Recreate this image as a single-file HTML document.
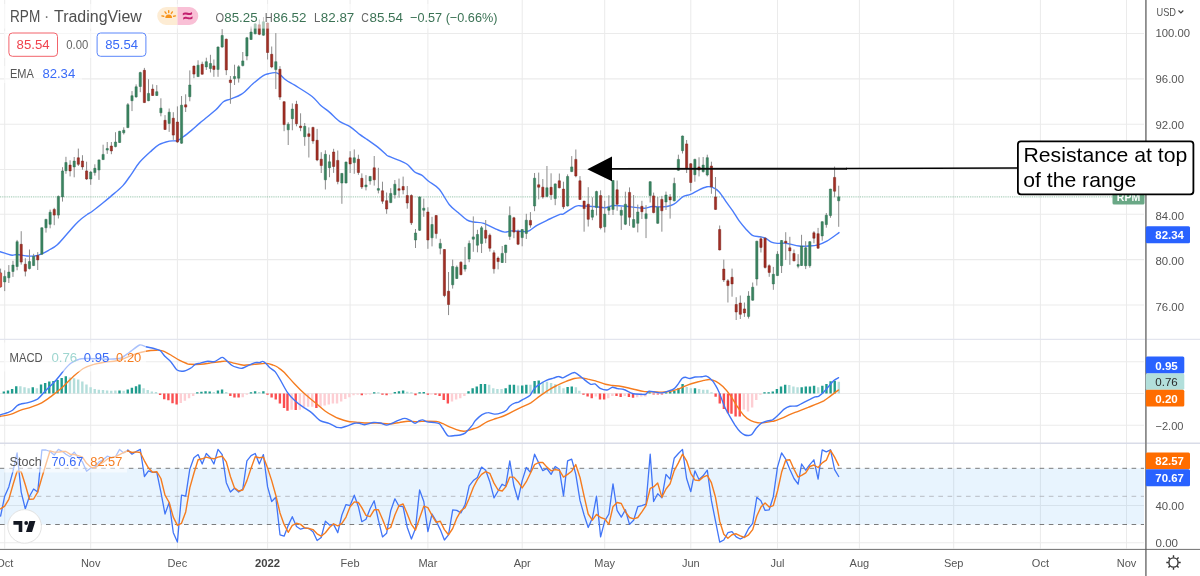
<!DOCTYPE html>
<html lang="en"><head><meta charset="utf-8"><title>RPM · TradingView</title>
<style>
html,body{margin:0;padding:0;background:#fff;}
body{width:1200px;height:576px;overflow:hidden;font-family:"Liberation Sans",sans-serif;}
svg{display:block;}
</style></head><body>
<svg width="1200" height="576" viewBox="0 0 1200 576" font-family="'Liberation Sans', sans-serif">
<rect width="1200" height="576" fill="#fff"/>
<path d="M4.7 0V548.5 M90.7 0V548.5 M177.4 0V548.5 M267.6 0V548.5 M350.1 0V548.5 M427.9 0V548.5 M522.2 0V548.5 M604.7 0V548.5 M690.8 0V548.5 M777.5 0V548.5 M859.4 0V548.5 M953.7 0V548.5 M1040.4 0V548.5 M1126.5 0V548.5 M0 33.4H1144 M0 78.85H1144 M0 124.3H1144 M0 169.5H1144 M0 214.3H1144 M0 259.6H1144 M0 304.9H1144 M0 361.7H1144 M0 393.5H1144 M0 425.2H1144 M0 505.5H1144 M0 542.7H1144" stroke="#ebebeb" stroke-width="1.05" fill="none"/>
<rect x="0" y="468.3" width="1144" height="56.2" fill="#2196f3" fill-opacity="0.1"/>
<path d="M0 339.3H1200" stroke="#e3e5ee" stroke-width="1.2"/>
<path d="M0 443.3H1200" stroke="#d9dce8" stroke-width="1.6"/>
<path d="M0 468.3H1144M0 524.5H1144" stroke="#666" stroke-width="0.85" stroke-dasharray="4.6 4.6" fill="none"/>
<path d="M0 496.3H1144" stroke="#adb0b8" stroke-width="0.85" stroke-dasharray="4.6 4.6" fill="none"/>
<path d="M0 196.9H1146" stroke="#6fae8c" stroke-width="1" stroke-dasharray="0.9 0.93" fill="none" opacity="0.8"/>
<path d="M-2.0 251.5C-1.7 251.5 -1.5 251.3 0.0 251.7C1.5 252.1 5.0 253.2 7.0 253.8C9.0 254.4 10.5 255.1 12.2 255.2C13.9 255.3 15.1 254.4 17.4 254.5C19.7 254.6 23.1 255.7 26.0 255.9C28.9 256.1 32.1 256.4 34.7 256.0C37.3 255.7 39.4 254.8 41.7 253.8C44.0 252.9 46.0 251.8 48.6 250.3C51.2 248.8 53.8 248.0 57.3 244.8C60.8 241.6 65.9 235.1 69.4 231.2C72.9 227.4 75.2 224.4 78.1 221.7C81.0 218.9 84.5 216.4 86.8 214.8C89.1 213.1 89.5 213.3 91.7 211.7C93.9 210.1 96.8 207.8 100.0 205.2C103.2 202.6 107.0 199.7 110.8 196.4C114.6 193.1 119.4 189.4 122.9 185.6C126.4 181.8 128.8 177.7 131.6 173.8C134.3 170.0 136.3 166.1 139.4 162.5C142.5 158.9 146.7 155.1 150.0 152.1C153.3 149.1 155.8 146.4 159.0 144.6C162.2 142.8 166.3 141.8 169.4 141.1C172.5 140.4 175.0 141.3 177.3 140.6C179.6 139.9 180.9 138.6 183.3 136.8C185.8 135.0 189.2 132.2 192.0 129.9C194.8 127.6 196.1 126.2 200.0 122.9C203.9 119.6 211.7 113.5 215.6 110.0C219.5 106.5 220.9 103.5 223.4 101.7C225.9 99.9 227.3 100.3 230.3 99.1C233.3 97.8 237.8 96.8 241.6 94.2C245.4 91.7 249.3 86.9 252.9 83.8C256.5 80.7 260.7 77.3 263.3 75.6C265.9 73.9 266.5 74.2 268.5 73.7C270.5 73.2 273.6 72.4 275.5 72.6C277.4 72.8 278.2 73.5 280.0 74.7C281.8 75.9 283.6 78.2 286.0 80.0C288.4 81.8 290.3 82.5 294.7 85.2C299.1 88.0 307.8 93.1 312.1 96.5C316.5 99.9 317.9 102.9 320.8 105.5C323.7 108.1 326.2 109.4 329.4 112.1C332.6 114.8 336.4 119.1 339.9 121.6C343.4 124.0 346.9 124.6 350.3 126.8C353.7 129.0 357.4 132.6 360.0 134.6C362.6 136.6 363.0 136.6 366.0 138.7C369.0 140.8 374.6 144.7 378.1 147.4C381.6 150.2 384.8 153.6 386.8 155.2C388.9 156.8 387.8 155.8 390.4 156.9C393.0 158.0 399.7 160.5 402.6 161.8C405.5 163.1 405.8 163.1 407.8 164.8C409.8 166.4 412.4 170.3 414.7 172.0C417.0 173.7 419.4 173.7 421.7 175.2C424.0 176.7 425.7 178.9 428.6 181.2C431.5 183.6 435.5 185.1 439.0 189.0C442.5 192.9 446.2 200.8 449.4 204.7C452.6 208.6 455.2 210.0 458.1 212.5C461.0 215.0 464.2 218.2 466.8 219.8C469.4 221.4 470.9 221.4 473.8 222.0C476.6 222.6 480.2 222.2 483.9 223.4C487.6 224.6 492.5 227.7 496.0 229.1C499.5 230.5 502.1 231.8 504.7 232.1C507.3 232.4 508.2 231.0 511.7 230.9C515.2 230.8 522.6 231.7 525.6 231.6C528.6 231.5 527.9 231.4 529.9 230.3C531.9 229.2 534.1 227.0 537.4 225.1C540.7 223.2 546.0 220.8 549.7 219.0C553.5 217.2 557.6 215.3 559.9 214.4C562.2 213.5 561.0 215.2 563.6 213.8C566.2 212.5 572.5 207.6 575.6 206.3C578.8 205.0 579.0 205.9 582.5 206.0C586.0 206.1 592.6 206.5 596.4 206.8C600.1 207.1 602.1 207.9 605.0 207.7C607.9 207.5 610.2 205.8 613.8 205.6C617.2 205.4 622.5 206.0 626.0 206.3C629.5 206.6 631.5 207.1 634.7 207.4C637.9 207.7 642.2 208.3 645.1 208.2C648.0 208.0 649.2 206.7 652.1 206.5C655.0 206.3 659.4 207.1 662.5 206.9C665.6 206.7 668.5 206.2 670.8 205.5C673.0 204.8 674.0 204.3 676.0 202.8C678.0 201.3 680.6 198.0 683.0 196.6C685.4 195.2 687.9 195.4 690.4 194.4C692.9 193.4 695.5 191.6 698.2 190.3C701.0 189.0 704.6 187.3 706.9 186.8C709.2 186.3 710.1 186.4 712.1 187.2C714.1 188.0 716.7 189.3 719.0 191.7C721.3 194.1 723.7 198.4 726.0 201.6C728.3 204.8 730.7 207.9 732.9 211.1C735.1 214.3 736.9 217.8 739.0 220.7C741.1 223.6 743.4 226.3 745.6 228.7C747.8 231.1 750.0 234.0 752.4 235.3C754.8 236.7 757.9 236.3 760.1 236.8C762.3 237.3 763.6 237.3 765.5 238.2C767.4 239.1 769.3 241.3 771.4 242.2C773.5 243.1 775.6 243.2 778.0 243.4C780.4 243.6 782.5 242.8 786.0 243.2C789.5 243.6 795.1 245.5 799.0 246.0C802.9 246.5 806.2 246.2 809.4 246.0C812.6 245.8 815.2 245.6 818.1 244.8C821.0 244.0 823.3 243.2 826.8 241.2C830.3 239.2 837.0 234.0 839.0 232.6" stroke="#4a7cfb" stroke-width="1.4" fill="none" stroke-linejoin="round" stroke-linecap="round"/>
<path d="M0.57 268.6V287.7 M4.70 270.3V291.1 M8.83 265.1V283.0 M12.96 260.8V276.9 M17.09 239.9V270.3 M21.21 231.2V264.6 M25.34 258.2V276.4 M29.47 249.5V269.4 M33.60 253.8V266.0 M37.73 252.1V270.0 M41.86 227.4V254.7 M45.99 218.8V232.6 M50.11 209.6V228.3 M54.24 207.8V225.2 M58.37 195.5V218.5 M62.50 167.2V201.6 M65.95 156.8V173.8 M70.08 160.3V176.4 M74.20 157.0V177.3 M78.33 148.6V166.0 M82.46 155.2V169.8 M86.59 161.7V179.9 M90.72 170.9V184.8 M94.85 164.3V175.6 M98.98 159.6V179.9 M103.10 144.7V159.9 M107.23 142.0V153.9 M111.36 142.0V154.2 M115.49 132.2V147.3 M119.62 130.8V142.9 M123.75 127.3V134.5 M127.88 103.0V128.1 M132.00 91.1V111.1 M136.13 84.4V97.7 M140.26 71.7V92.2 M144.39 67.9V103.0 M148.52 79.2V101.2 M152.65 84.4V96.0 M156.78 85.1V96.0 M160.90 98.3V116.3 M165.03 115.1V129.9 M169.16 108.5V131.9 M173.29 112.2V139.9 M177.42 106.4V142.9 M181.55 96.0V143.8 M185.67 94.3V112.0 M189.80 70.4V101.3 M193.93 65.6V78.2 M198.06 60.3V77.0 M202.19 61.7V74.6 M206.32 57.7V69.9 M210.45 54.8V72.5 M213.89 59.5V76.8 M218.02 46.5V76.8 M222.15 29.1V47.8 M226.28 38.6V75.1 M230.41 76.0V103.8 M234.54 64.7V85.0 M238.67 65.2V82.6 M242.79 52.0V66.4 M246.92 36.9V60.3 M251.05 26.5V39.9 M255.18 23.0V34.3 M259.31 19.5V35.2 M263.44 17.0V35.7 M267.57 22.5V59.5 M271.69 46.5V68.2 M275.82 33.1V89.1 M279.95 66.1V99.9 M284.08 101.3V131.2 M288.21 122.2V145.0 M292.34 103.4V130.3 M296.47 100.8V126.3 M300.59 113.3V131.2 M304.72 123.0V145.8 M308.85 127.4V157.5 M312.98 126.8V143.8 M317.11 128.9V161.2 M321.24 152.2V173.0 M325.36 150.3V189.5 M329.49 154.7V177.2 M333.62 148.8V172.9 M337.75 150.5V184.3 M341.88 173.0V203.8 M346.01 161.6V183.3 M350.14 151.2V173.0 M354.26 149.4V173.8 M358.39 154.7V174.8 M361.84 173.4V189.0 M365.97 175.1V190.4 M370.10 176.0V184.7 M374.23 156.0V185.6 M378.36 167.8V193.4 M382.48 181.7V203.8 M386.61 192.5V213.8 M390.74 188.2V203.1 M394.87 180.0V198.6 M399.00 178.6V197.7 M403.13 176.6V194.3 M407.26 186.0V208.7 M411.38 194.3V225.0 M415.51 229.0V248.0 M419.64 196.5V231.0 M423.77 198.6V216.8 M427.90 207.3V248.8 M432.03 216.8V246.4 M436.15 215.1V238.6 M440.28 238.8V254.4 M444.41 249.2V297.2 M448.54 272.0V315.1 M452.67 259.6V288.6 M456.80 265.5V279.0 M460.93 261.3V275.2 M465.05 246.9V271.6 M469.18 240.5V262.2 M473.31 216.4V251.8 M477.44 229.8V252.3 M481.57 226.0V253.0 M485.70 220.0V243.2 M489.83 233.5V251.6 M493.95 250.3V273.6 M498.08 256.4V269.4 M502.21 246.0V263.0 M505.66 244.8V263.0 M509.79 206.4V239.9 M513.92 216.8V238.2 M518.05 229.5V245.1 M522.17 229.1V246.3 M526.30 213.8V239.0 M530.43 212.1V227.7 M534.56 173.0V211.2 M538.69 172.6V199.4 M542.82 179.0V198.7 M546.94 166.0V197.3 M551.07 173.3V199.9 M555.20 183.4V205.2 M559.33 173.5V188.3 M563.46 181.7V209.1 M567.59 174.4V206.5 M571.72 156.1V172.1 M575.84 149.5V177.3 M579.97 176.1V199.9 M584.10 200.8V231.7 M588.23 187.2V226.5 M592.36 197.3V220.2 M596.49 190.7V215.5 M600.62 190.3V229.4 M604.74 200.8V232.5 M608.87 195.2V215.0 M613.00 180.0V215.0 M617.13 180.5V210.8 M621.26 206.8V229.9 M625.39 191.7V225.1 M629.52 187.4V225.9 M633.64 195.0V227.7 M637.77 204.6V232.4 M641.90 200.8V219.0 M646.03 205.1V238.1 M650.16 181.3V202.5 M653.61 192.6V213.3 M657.74 197.0V223.9 M661.86 195.9V231.7 M665.99 191.6V210.0 M670.12 194.1V218.6 M674.25 177.7V201.3 M678.38 154.7V170.9 M682.51 135.6V153.5 M686.63 140.0V173.0 M690.76 163.0V191.2 M694.89 158.7V181.7 M699.02 157.3V176.4 M703.15 157.0V172.6 M707.28 154.7V176.4 M711.41 161.7V193.8 M715.53 177.0V209.8 M719.66 225.5V250.4 M723.79 259.6V282.0 M727.92 279.0V302.5 M732.05 268.6V296.7 M736.18 297.2V320.0 M740.31 295.5V319.0 M744.43 302.5V316.9 M748.56 291.2V318.6 M752.69 282.5V300.7 M756.82 240.8V285.6 M760.95 236.5V252.5 M765.08 237.4V268.6 M769.21 264.3V276.8 M773.33 266.9V289.8 M777.46 251.2V275.9 M781.59 240.0V273.0 M785.72 232.2V260.0 M789.85 236.8V264.8 M793.98 249.5V261.3 M798.10 254.2V268.3 M801.55 234.8V266.0 M805.68 241.2V269.1 M809.81 241.2V267.7 M813.94 231.1V243.3 M818.07 227.9V248.6 M822.20 221.3V240.7 M826.32 213.0V227.7 M830.45 188.8V217.8 M834.58 166.6V197.3 M838.71 185.7V226.8" stroke="#8c8c8c" stroke-width="1" fill="none"/>
<path d="M3.60 276.4h2.2V281.9h-2.2z M7.73 272.1h2.2V277.8h-2.2z M11.86 265.1h2.2V271.5h-2.2z M15.99 241.7h2.2V266.5h-2.2z M28.37 261.6h2.2V268.6h-2.2z M32.50 256.4h2.2V265.6h-2.2z M40.76 227.8h2.2V254.2h-2.2z M44.89 219.4h2.2V227.8h-2.2z M49.01 212.2h2.2V224.3h-2.2z M57.27 196.4h2.2V215.1h-2.2z M61.40 170.9h2.2V196.9h-2.2z M64.85 162.5h2.2V170.7h-2.2z M73.10 161.1h2.2V166.9h-2.2z M89.62 172.1h2.2V179.0h-2.2z M93.75 168.3h2.2V172.6h-2.2z M97.88 159.9h2.2V170.0h-2.2z M102.00 154.4h2.2V159.6h-2.2z M106.13 148.5h2.2V150.1h-2.2z M114.39 142.0h2.2V146.6h-2.2z M118.52 131.3h2.2V142.5h-2.2z M122.65 130.2h2.2V132.8h-2.2z M126.78 104.7h2.2V127.6h-2.2z M130.90 95.7h2.2V100.7h-2.2z M135.03 86.8h2.2V96.9h-2.2z M139.16 72.6h2.2V86.5h-2.2z M147.42 93.4h2.2V100.7h-2.2z M155.68 91.7h2.2V95.5h-2.2z M159.80 108.2h2.2V112.8h-2.2z M168.06 112.2h2.2V123.4h-2.2z M180.45 105.2h2.2V143.2h-2.2z M188.70 85.0h2.2V96.7h-2.2z M196.96 65.2h2.2V76.6h-2.2z M205.22 61.7h2.2V66.9h-2.2z M209.35 63.5h2.2V68.5h-2.2z M216.92 47.0h2.2V69.4h-2.2z M221.05 35.5h2.2V47.0h-2.2z M233.44 76.5h2.2V78.6h-2.2z M237.57 66.8h2.2V78.2h-2.2z M241.69 60.9h2.2V65.6h-2.2z M245.82 37.8h2.2V56.0h-2.2z M249.95 32.0h2.2V39.5h-2.2z M254.08 23.9h2.2V33.8h-2.2z M262.34 21.8h2.2V35.2h-2.2z M274.72 61.7h2.2V69.6h-2.2z M287.11 124.2h2.2V129.8h-2.2z M291.24 109.1h2.2V118.7h-2.2z M303.62 126.3h2.2V136.7h-2.2z M324.26 154.3h2.2V179.8h-2.2z M328.39 161.8h2.2V167.7h-2.2z M340.78 173.4h2.2V183.0h-2.2z M344.91 162.1h2.2V183.0h-2.2z M353.16 157.8h2.2V162.6h-2.2z M364.87 185.0h2.2V186.8h-2.2z M369.00 176.4h2.2V180.9h-2.2z M377.26 188.6h2.2V190.2h-2.2z M389.64 193.4h2.2V202.6h-2.2z M393.77 184.2h2.2V194.8h-2.2z M414.41 233.0h2.2V240.0h-2.2z M418.54 196.9h2.2V230.3h-2.2z M422.67 208.2h2.2V210.2h-2.2z M430.93 224.5h2.2V237.8h-2.2z M439.18 243.4h2.2V248.2h-2.2z M451.57 266.5h2.2V284.8h-2.2z M455.70 267.2h2.2V278.5h-2.2z M463.95 265.1h2.2V269.1h-2.2z M468.08 243.4h2.2V259.0h-2.2z M472.21 236.9h2.2V239.2h-2.2z M476.34 234.5h2.2V245.2h-2.2z M480.47 227.8h2.2V243.4h-2.2z M501.11 253.4h2.2V262.5h-2.2z M504.56 245.1h2.2V252.6h-2.2z M508.69 215.6h2.2V236.4h-2.2z M521.07 229.5h2.2V237.6h-2.2z M525.20 220.2h2.2V233.4h-2.2z M533.46 178.2h2.2V206.0h-2.2z M545.84 187.8h2.2V196.4h-2.2z M554.10 183.9h2.2V198.6h-2.2z M566.49 176.5h2.2V206.0h-2.2z M570.62 166.9h2.2V171.6h-2.2z M591.26 210.0h2.2V217.2h-2.2z M595.39 191.6h2.2V207.4h-2.2z M603.64 214.1h2.2V226.8h-2.2z M607.77 207.2h2.2V210.3h-2.2z M611.90 180.5h2.2V209.4h-2.2z M620.16 210.3h2.2V215.2h-2.2z M624.29 204.2h2.2V224.2h-2.2z M632.54 219.5h2.2V227.3h-2.2z M636.67 212.0h2.2V223.3h-2.2z M644.93 213.8h2.2V218.6h-2.2z M649.06 181.7h2.2V195.6h-2.2z M656.64 207.2h2.2V223.3h-2.2z M664.89 195.0h2.2V202.0h-2.2z M673.15 183.4h2.2V200.8h-2.2z M677.28 159.4h2.2V170.3h-2.2z M681.41 136.0h2.2V150.7h-2.2z M693.79 159.4h2.2V174.7h-2.2z M702.05 165.1h2.2V171.6h-2.2z M706.18 157.7h2.2V175.0h-2.2z M747.46 296.0h2.2V316.4h-2.2z M751.59 287.2h2.2V300.2h-2.2z M755.72 241.2h2.2V279.0h-2.2z M772.23 274.3h2.2V283.9h-2.2z M776.36 254.2h2.2V275.6h-2.2z M780.49 240.5h2.2V265.7h-2.2z M797.00 264.6h2.2V266.2h-2.2z M800.45 246.0h2.2V265.5h-2.2z M804.58 247.8h2.2V265.7h-2.2z M808.71 241.7h2.2V265.7h-2.2z M821.10 221.7h2.2V235.9h-2.2z M825.22 215.2h2.2V224.6h-2.2z M829.35 189.1h2.2V215.6h-2.2z M837.61 196.8h2.2V200.8h-2.2z" fill="#3a8460" stroke="#2f6f50" stroke-width="0.5"/>
<path d="M-0.53 272.9h2.2V286.8h-2.2z M20.11 244.3h2.2V262.1h-2.2z M24.24 264.2h2.2V271.2h-2.2z M36.63 255.6h2.2V259.9h-2.2z M53.14 209.4h2.2V215.1h-2.2z M68.98 165.1h2.2V170.9h-2.2z M77.23 157.8h2.2V164.3h-2.2z M81.36 161.1h2.2V166.9h-2.2z M85.49 170.9h2.2V179.0h-2.2z M110.26 146.0h2.2V150.9h-2.2z M143.29 70.3h2.2V102.6h-2.2z M151.55 89.1h2.2V95.5h-2.2z M163.93 120.3h2.2V129.5h-2.2z M172.19 118.2h2.2V135.1h-2.2z M176.32 122.0h2.2V142.0h-2.2z M184.57 104.8h2.2V107.1h-2.2z M192.83 66.1h2.2V74.1h-2.2z M201.09 64.3h2.2V74.2h-2.2z M212.79 65.9h2.2V69.4h-2.2z M225.18 39.2h2.2V69.9h-2.2z M229.31 80.0h2.2V82.6h-2.2z M258.21 24.8h2.2V34.3h-2.2z M266.47 23.0h2.2V52.5h-2.2z M270.59 54.3h2.2V66.9h-2.2z M278.85 69.3h2.2V97.1h-2.2z M282.98 101.7h2.2V124.6h-2.2z M295.37 104.3h2.2V123.7h-2.2z M299.49 126.0h2.2V127.7h-2.2z M307.75 133.8h2.2V136.4h-2.2z M311.88 127.4h2.2V141.0h-2.2z M316.01 140.3h2.2V160.0h-2.2z M320.14 159.2h2.2V165.6h-2.2z M332.52 152.0h2.2V166.5h-2.2z M336.65 160.4h2.2V181.6h-2.2z M349.04 157.8h2.2V163.9h-2.2z M357.29 159.2h2.2V172.5h-2.2z M360.74 178.3h2.2V187.0h-2.2z M373.13 167.8h2.2V179.8h-2.2z M381.38 190.8h2.2V201.2h-2.2z M385.51 200.7h2.2V209.0h-2.2z M397.90 188.7h2.2V190.3h-2.2z M402.03 186.5h2.2V190.0h-2.2z M406.16 195.5h2.2V203.0h-2.2z M410.28 195.5h2.2V222.8h-2.2z M426.80 212.0h2.2V240.0h-2.2z M435.05 215.5h2.2V233.6h-2.2z M443.31 249.5h2.2V295.5h-2.2z M447.44 291.2h2.2V304.5h-2.2z M459.83 262.2h2.2V274.7h-2.2z M484.60 230.3h2.2V238.2h-2.2z M488.73 235.2h2.2V248.2h-2.2z M492.85 252.8h2.2V268.8h-2.2z M496.98 258.1h2.2V261.6h-2.2z M512.82 217.8h2.2V232.1h-2.2z M516.95 231.2h2.2V244.2h-2.2z M529.33 220.4h2.2V225.1h-2.2z M537.59 184.8h2.2V187.2h-2.2z M541.72 187.2h2.2V197.0h-2.2z M549.97 187.3h2.2V194.7h-2.2z M558.23 180.8h2.2V187.8h-2.2z M562.36 189.1h2.2V206.8h-2.2z M574.74 159.4h2.2V175.9h-2.2z M578.87 180.8h2.2V199.5h-2.2z M583.00 201.1h2.2V208.6h-2.2z M587.13 204.2h2.2V219.3h-2.2z M599.52 195.6h2.2V227.7h-2.2z M616.03 189.8h2.2V204.2h-2.2z M628.42 192.4h2.2V217.2h-2.2z M640.80 206.3h2.2V211.7h-2.2z M652.51 195.9h2.2V212.6h-2.2z M660.76 199.4h2.2V210.8h-2.2z M669.02 196.9h2.2V199.9h-2.2z M685.53 143.9h2.2V168.6h-2.2z M689.66 163.8h2.2V182.5h-2.2z M697.92 166.9h2.2V170.0h-2.2z M710.31 166.0h2.2V186.8h-2.2z M714.43 196.9h2.2V209.4h-2.2z M718.56 229.5h2.2V249.9h-2.2z M722.69 269.1h2.2V279.9h-2.2z M726.82 280.8h2.2V285.6h-2.2z M730.95 277.3h2.2V283.9h-2.2z M735.08 304.5h2.2V312.0h-2.2z M739.21 303.0h2.2V314.3h-2.2z M743.33 308.9h2.2V312.9h-2.2z M759.85 238.8h2.2V247.4h-2.2z M763.98 238.2h2.2V267.4h-2.2z M768.11 265.7h2.2V272.4h-2.2z M784.62 241.2h2.2V242.9h-2.2z M788.75 247.8h2.2V250.9h-2.2z M792.88 253.5h2.2V260.8h-2.2z M812.84 232.8h2.2V238.2h-2.2z M816.97 233.7h2.2V248.2h-2.2z M833.48 177.4h2.2V191.2h-2.2z" fill="#a12f25" stroke="#7d2019" stroke-width="0.5"/>
<rect x="0" y="272.9" width="1.6" height="13.9" fill="#d4544a"/>
<path d="M2.66 391.5h2.4V393.4h-2.4z M6.79 390.4h2.4V393.4h-2.4z M10.92 389.0h2.4V393.4h-2.4z M15.05 386.2h2.4V393.4h-2.4z M31.57 387.3h2.4V393.4h-2.4z M39.83 384.6h2.4V393.4h-2.4z M43.96 383.1h2.4V393.4h-2.4z M48.09 381.5h2.4V393.4h-2.4z M52.22 381.0h2.4V393.4h-2.4z M56.35 380.0h2.4V393.4h-2.4z M60.48 377.9h2.4V393.4h-2.4z M64.61 376.2h2.4V393.4h-2.4z M118.30 390.4h2.4V393.4h-2.4z M126.56 389.4h2.4V393.4h-2.4z M130.69 387.7h2.4V393.4h-2.4z M134.82 386.2h2.4V393.4h-2.4z M138.27 384.6h2.4V393.4h-2.4z M196.09 392.2h2.4V393.4h-2.4z M200.22 391.7h2.4V393.4h-2.4z M204.35 391.2h2.4V393.4h-2.4z M208.48 391.4h2.4V393.4h-2.4z M216.74 390.4h2.4V393.4h-2.4z M220.87 389.5h2.4V393.4h-2.4z M249.78 392.2h2.4V393.4h-2.4z M253.91 391.2h2.4V393.4h-2.4z M262.17 391.2h2.4V393.4h-2.4z M373.00 392.2h2.4V393.4h-2.4z M393.65 392.1h2.4V393.4h-2.4z M397.78 391.2h2.4V393.4h-2.4z M401.91 390.4h2.4V393.4h-2.4z M418.43 392.2h2.4V393.4h-2.4z M422.56 392.1h2.4V393.4h-2.4z M467.31 391.2h2.4V393.4h-2.4z M471.44 388.3h2.4V393.4h-2.4z M475.57 386.5h2.4V393.4h-2.4z M479.70 383.9h2.4V393.4h-2.4z M483.83 383.9h2.4V393.4h-2.4z M504.48 388.3h2.4V393.4h-2.4z M508.61 384.8h2.4V393.4h-2.4z M512.74 384.8h2.4V393.4h-2.4z M521.00 385.5h2.4V393.4h-2.4z M525.13 384.8h2.4V393.4h-2.4z M533.39 381.1h2.4V393.4h-2.4z M537.52 380.4h2.4V393.4h-2.4z M566.43 386.9h2.4V393.4h-2.4z M570.56 386.4h2.4V393.4h-2.4z M648.35 392.2h2.4V393.4h-2.4z M664.87 392.2h2.4V393.4h-2.4z M669.00 392.1h2.4V393.4h-2.4z M673.13 390.9h2.4V393.4h-2.4z M677.26 388.3h2.4V393.4h-2.4z M681.39 383.9h2.4V393.4h-2.4z M693.78 388.3h2.4V393.4h-2.4z M763.31 392.2h2.4V393.4h-2.4z M767.44 392.2h2.4V393.4h-2.4z M771.57 391.6h2.4V393.4h-2.4z M775.70 389.1h2.4V393.4h-2.4z M779.83 386.5h2.4V393.4h-2.4z M783.96 384.8h2.4V393.4h-2.4z M800.48 387.2h2.4V393.4h-2.4z M804.61 386.5h2.4V393.4h-2.4z M808.74 386.5h2.4V393.4h-2.4z M812.87 385.7h2.4V393.4h-2.4z M821.13 385.7h2.4V393.4h-2.4z M825.26 383.9h2.4V393.4h-2.4z M829.39 381.3h2.4V393.4h-2.4z M833.52 380.8h2.4V393.4h-2.4z" fill="#1f9c8d"/>
<path d="M19.18 386.2h2.4V393.4h-2.4z M23.31 387.3h2.4V393.4h-2.4z M27.44 388.3h2.4V393.4h-2.4z M35.70 388.3h2.4V393.4h-2.4z M68.74 377.5h2.4V393.4h-2.4z M72.87 378.3h2.4V393.4h-2.4z M77.00 379.4h2.4V393.4h-2.4z M81.13 381.5h2.4V393.4h-2.4z M85.26 384.6h2.4V393.4h-2.4z M89.39 387.3h2.4V393.4h-2.4z M93.52 389.0h2.4V393.4h-2.4z M97.65 389.8h2.4V393.4h-2.4z M101.78 390.0h2.4V393.4h-2.4z M105.91 390.4h2.4V393.4h-2.4z M110.04 390.8h2.4V393.4h-2.4z M114.17 390.4h2.4V393.4h-2.4z M122.43 390.8h2.4V393.4h-2.4z M142.40 388.3h2.4V393.4h-2.4z M146.53 390.0h2.4V393.4h-2.4z M150.66 391.5h2.4V393.4h-2.4z M154.79 392.1h2.4V393.4h-2.4z M212.61 392.1h2.4V393.4h-2.4z M225.00 392.1h2.4V393.4h-2.4z M258.04 392.1h2.4V393.4h-2.4z M377.13 392.2h2.4V393.4h-2.4z M406.04 391.7h2.4V393.4h-2.4z M410.17 392.2h2.4V393.4h-2.4z M487.96 384.8h2.4V393.4h-2.4z M492.09 388.3h2.4V393.4h-2.4z M496.22 389.1h2.4V393.4h-2.4z M500.35 389.1h2.4V393.4h-2.4z M516.87 385.5h2.4V393.4h-2.4z M529.26 384.8h2.4V393.4h-2.4z M541.65 381.7h2.4V393.4h-2.4z M545.78 381.7h2.4V393.4h-2.4z M549.91 383.1h2.4V393.4h-2.4z M554.04 384.3h2.4V393.4h-2.4z M558.17 385.5h2.4V393.4h-2.4z M562.30 388.3h2.4V393.4h-2.4z M574.69 387.2h2.4V393.4h-2.4z M578.14 390.7h2.4V393.4h-2.4z M685.52 386.9h2.4V393.4h-2.4z M689.65 388.3h2.4V393.4h-2.4z M697.91 389.1h2.4V393.4h-2.4z M702.04 389.8h2.4V393.4h-2.4z M706.17 389.8h2.4V393.4h-2.4z M710.30 392.2h2.4V393.4h-2.4z M788.09 385.1h2.4V393.4h-2.4z M792.22 386.5h2.4V393.4h-2.4z M796.35 387.2h2.4V393.4h-2.4z M817.00 387.2h2.4V393.4h-2.4z M837.65 381.7h2.4V393.4h-2.4z" fill="#b4dedb"/>
<path d="M158.92 393.4h2.4V395.0h-2.4z M163.05 393.4h2.4V399.2h-2.4z M167.18 393.4h2.4V400.2h-2.4z M171.31 393.4h2.4V403.3h-2.4z M175.44 393.4h2.4V404.6h-2.4z M229.13 393.4h2.4V395.9h-2.4z M233.26 393.4h2.4V397.6h-2.4z M237.39 393.4h2.4V397.6h-2.4z M266.30 393.4h2.4V394.7h-2.4z M270.43 393.4h2.4V397.6h-2.4z M274.56 393.4h2.4V399.4h-2.4z M278.69 393.4h2.4V403.4h-2.4z M282.82 393.4h2.4V408.1h-2.4z M286.27 393.4h2.4V410.8h-2.4z M294.53 393.4h2.4V410.0h-2.4z M315.18 393.4h2.4V408.1h-2.4z M360.61 393.4h2.4V395.2h-2.4z M381.26 393.4h2.4V394.7h-2.4z M385.39 393.4h2.4V395.2h-2.4z M414.30 393.4h2.4V395.2h-2.4z M426.69 393.4h2.4V394.7h-2.4z M434.27 393.4h2.4V394.7h-2.4z M438.40 393.4h2.4V395.9h-2.4z M442.53 393.4h2.4V399.9h-2.4z M446.66 393.4h2.4V403.4h-2.4z M582.27 393.4h2.4V394.7h-2.4z M586.40 393.4h2.4V396.4h-2.4z M590.53 393.4h2.4V398.2h-2.4z M598.79 393.4h2.4V399.4h-2.4z M602.92 393.4h2.4V399.4h-2.4z M615.31 393.4h2.4V395.9h-2.4z M619.44 393.4h2.4V396.9h-2.4z M627.70 393.4h2.4V396.9h-2.4z M631.83 393.4h2.4V397.8h-2.4z M652.48 393.4h2.4V394.6h-2.4z M656.61 393.4h2.4V394.6h-2.4z M660.74 393.4h2.4V394.6h-2.4z M714.43 393.4h2.4V396.8h-2.4z M718.56 393.4h2.4V403.4h-2.4z M722.69 393.4h2.4V409.1h-2.4z M726.82 393.4h2.4V413.3h-2.4z M730.27 393.4h2.4V413.8h-2.4z M734.40 393.4h2.4V416.4h-2.4z M738.53 393.4h2.4V416.4h-2.4z" fill="#fb4e50"/>
<path d="M179.57 393.4h2.4V402.9h-2.4z M183.70 393.4h2.4V400.8h-2.4z M187.83 393.4h2.4V398.3h-2.4z M191.96 393.4h2.4V395.9h-2.4z M241.52 393.4h2.4V397.3h-2.4z M245.65 393.4h2.4V394.7h-2.4z M290.40 393.4h2.4V409.8h-2.4z M298.66 393.4h2.4V409.8h-2.4z M302.79 393.4h2.4V408.6h-2.4z M306.92 393.4h2.4V406.8h-2.4z M311.05 393.4h2.4V406.8h-2.4z M319.31 393.4h2.4V406.8h-2.4z M323.44 393.4h2.4V405.6h-2.4z M327.57 393.4h2.4V404.6h-2.4z M331.70 393.4h2.4V403.4h-2.4z M335.83 393.4h2.4V403.4h-2.4z M339.96 393.4h2.4V401.6h-2.4z M344.09 393.4h2.4V399.0h-2.4z M348.22 393.4h2.4V397.3h-2.4z M352.35 393.4h2.4V395.2h-2.4z M356.48 393.4h2.4V394.7h-2.4z M364.74 393.4h2.4V394.7h-2.4z M368.87 393.4h2.4V394.6h-2.4z M389.52 393.4h2.4V394.6h-2.4z M430.14 393.4h2.4V394.6h-2.4z M450.79 393.4h2.4V401.6h-2.4z M454.92 393.4h2.4V399.4h-2.4z M459.05 393.4h2.4V398.2h-2.4z M463.18 393.4h2.4V395.9h-2.4z M594.66 393.4h2.4V396.4h-2.4z M607.05 393.4h2.4V398.2h-2.4z M611.18 393.4h2.4V395.9h-2.4z M623.57 393.4h2.4V395.9h-2.4z M635.96 393.4h2.4V397.3h-2.4z M640.09 393.4h2.4V396.4h-2.4z M644.22 393.4h2.4V396.4h-2.4z M742.66 393.4h2.4V409.4h-2.4z M746.79 393.4h2.4V411.5h-2.4z M750.92 393.4h2.4V407.4h-2.4z M755.05 393.4h2.4V399.9h-2.4z M759.18 393.4h2.4V394.7h-2.4z" fill="#fdced3"/>
<path d="M-2.1 416.9C-1.7 416.8 -2.1 416.9 0.0 416.5C2.1 416.0 6.9 415.4 10.4 414.4C13.9 413.3 17.4 411.4 20.8 410.2C24.3 409.0 27.8 408.3 31.2 407.1C34.7 405.9 38.2 404.8 41.7 402.9C45.1 401.0 48.6 398.2 52.1 395.6C55.6 393.0 59.0 390.4 62.5 387.3C66.0 384.2 69.4 380.0 72.9 376.9C76.4 373.8 79.9 370.6 83.3 368.5C86.8 366.5 90.3 365.4 93.8 364.4C97.2 363.3 100.3 362.9 104.2 362.3C108.0 361.7 113.2 361.5 116.7 360.8C120.1 360.1 121.9 359.3 125.0 358.1C128.1 357.0 131.9 355.1 135.4 354.0C138.9 352.8 142.4 351.9 145.8 351.2C149.3 350.6 153.5 350.3 156.2 350.2C159.0 350.1 160.1 350.0 162.5 350.8C164.9 351.6 168.1 353.4 170.8 355.0C173.6 356.6 176.4 358.8 179.2 360.2C181.9 361.7 185.7 363.1 187.5 363.8C189.3 364.4 187.8 364.2 190.0 364.3C192.2 364.4 196.9 364.5 200.4 364.3C203.9 364.1 207.6 363.4 210.8 362.9C214.0 362.5 216.9 362.0 219.5 361.7C222.1 361.4 223.9 360.9 226.5 361.2C229.1 361.5 232.2 362.8 235.1 363.4C238.0 364.1 240.6 365.0 243.8 365.2C247.0 365.3 250.5 364.6 254.2 364.3C258.0 364.0 263.2 363.3 266.4 363.4C269.6 363.6 271.3 364.4 273.3 365.2C275.4 365.9 276.8 366.6 278.5 367.8C280.3 368.9 281.1 369.5 283.8 372.1C286.4 374.7 290.7 379.8 294.2 383.4C297.6 387.0 301.1 390.6 304.6 393.8C308.1 397.0 311.5 399.6 315.0 402.5C318.5 405.4 322.2 408.9 325.4 411.2C328.6 413.5 331.9 415.2 334.1 416.4C336.3 417.6 336.5 417.7 338.7 418.5C340.9 419.3 344.5 420.6 347.4 421.2C350.3 421.9 353.1 421.8 356.0 422.1C358.9 422.4 361.2 422.8 364.7 423.0C368.2 423.1 372.8 422.8 376.9 423.0C380.9 423.1 385.3 423.9 389.0 423.9C392.8 423.8 396.3 422.9 399.4 422.5C402.6 422.0 405.2 421.4 408.1 421.2C411.0 421.1 413.6 421.6 416.8 421.6C420.0 421.6 423.7 421.2 427.2 421.2C430.7 421.2 435.0 421.2 437.6 421.6C440.2 422.0 440.5 422.7 442.9 423.7C445.2 424.7 448.6 426.5 451.5 427.7C454.4 428.9 457.9 430.2 460.2 430.8C462.5 431.4 463.1 431.5 465.4 431.1C467.7 430.8 471.9 429.3 474.1 428.5C476.3 427.8 476.5 428.0 478.7 426.8C480.9 425.7 484.5 423.0 487.4 421.6C490.3 420.2 493.1 419.5 496.0 418.5C498.9 417.5 501.8 416.7 504.7 415.5C507.6 414.3 510.5 412.6 513.4 411.2C516.3 409.7 519.2 408.2 522.1 406.8C525.0 405.5 527.9 404.6 530.8 402.9C533.7 401.1 536.5 398.5 539.4 396.4C542.3 394.3 545.2 392.2 548.1 390.4C551.0 388.5 553.9 386.9 556.8 385.5C559.7 384.0 562.6 382.8 565.5 381.7C568.4 380.5 571.6 379.2 574.2 378.5C576.8 377.9 578.8 377.8 581.1 377.9C583.4 377.9 585.5 378.5 588.1 379.1C590.7 379.6 593.8 380.5 596.7 381.3C599.6 382.2 602.8 383.6 605.4 384.3C608.0 385.0 610.1 385.2 612.4 385.5C614.6 385.8 616.2 385.6 618.7 386.0C621.2 386.4 624.5 387.1 627.4 387.7C630.3 388.4 633.1 389.2 636.0 389.8C638.9 390.5 641.8 391.2 644.7 391.6C647.6 391.9 650.5 391.7 653.4 391.7C656.3 391.8 659.2 392.2 662.1 392.1C665.0 392.0 667.9 391.8 670.8 391.2C673.7 390.6 676.5 389.7 679.4 388.6C682.3 387.5 685.2 385.9 688.1 384.8C691.0 383.7 694.2 382.9 696.8 382.2C699.4 381.5 701.6 380.9 703.8 380.4C705.9 380.0 707.8 379.4 709.8 379.6C711.9 379.7 713.7 380.2 715.9 381.3C718.1 382.5 720.5 384.3 722.9 386.5C725.2 388.8 727.4 391.4 729.8 394.7C732.1 397.9 734.6 402.5 736.9 406.0C739.3 409.4 741.6 413.1 743.9 415.5C746.2 418.0 748.5 419.5 750.8 420.7C753.1 421.9 755.5 422.5 757.8 422.8C760.1 423.1 762.1 422.7 764.7 422.5C767.3 422.2 770.5 422.0 773.4 421.2C776.3 420.5 779.2 419.3 782.1 418.1C785.0 416.9 787.9 415.3 790.8 414.1C793.7 412.9 796.5 412.0 799.4 410.8C802.3 409.7 805.2 408.5 808.1 407.4C811.0 406.2 814.2 405.0 816.8 403.9C819.4 402.8 821.4 402.1 823.8 400.8C826.1 399.4 828.2 397.7 830.7 395.9C833.2 394.1 837.2 391.0 838.5 390.0" stroke="#f57c1f" stroke-width="1.4" fill="none" stroke-linejoin="round" stroke-linecap="round"/>
<path d="M-2.1 415.8C-1.8 415.7 -1.2 415.4 0.0 415.0C1.2 414.6 6.9 412.8 8.3 412.3C9.8 411.7 11.5 410.9 12.5 410.2C13.5 409.5 15.7 406.8 16.7 406.0C17.6 405.3 19.6 404.3 20.8 404.0C22.0 403.6 25.1 403.5 27.1 402.9C29.0 402.4 35.3 400.6 37.5 399.2C39.7 397.7 43.6 392.7 45.8 390.4C48.0 388.2 54.1 382.4 56.2 380.0C58.4 377.6 62.9 371.5 64.6 369.6C66.3 367.6 69.1 364.5 70.8 363.3C72.5 362.1 77.2 359.7 79.2 359.2C81.1 358.6 85.3 358.6 87.5 358.5C89.7 358.5 95.5 358.7 97.9 358.8C100.4 358.8 105.7 359.2 108.3 359.2C111.0 359.1 118.4 358.9 120.8 358.1C123.3 357.3 127.0 354.0 129.2 352.5C131.4 351.0 137.6 345.7 139.6 345.0C141.5 344.3 143.9 346.2 145.8 346.7C147.8 347.2 154.5 348.7 156.2 349.2C158.0 349.7 159.4 350.0 160.4 350.8C161.4 351.6 163.4 354.8 164.6 356.0C165.8 357.3 169.4 360.0 170.8 361.7C172.3 363.3 175.5 368.9 177.1 370.0C178.7 371.1 182.7 371.3 184.4 371.0C186.1 370.7 190.4 368.3 191.7 367.5C192.9 366.7 194.2 364.8 195.2 364.3C196.2 363.8 199.0 363.5 200.4 363.1C201.8 362.7 205.7 361.3 207.4 361.2C209.0 361.0 212.6 362.1 214.3 361.7C216.0 361.3 220.6 357.7 221.8 357.4C223.0 357.0 223.6 357.8 224.7 358.8C225.9 359.7 230.3 364.2 231.7 365.2C233.1 366.2 235.7 367.1 236.9 367.4C238.1 367.8 240.7 368.6 242.1 368.3C243.5 368.0 247.5 365.8 249.0 365.2C250.5 364.5 253.9 362.9 255.1 362.6C256.3 362.3 258.5 362.7 259.4 362.6C260.4 362.4 262.1 361.2 262.9 361.4C263.7 361.5 265.6 363.2 266.4 364.0C267.2 364.7 268.8 366.9 269.9 367.8C270.9 368.7 273.9 370.2 275.1 371.6C276.3 373.0 278.9 377.5 280.3 379.9C281.7 382.3 285.6 389.8 287.2 392.1C288.8 394.4 292.3 398.2 294.2 399.9C296.0 401.6 300.8 405.4 302.9 406.8C304.9 408.3 309.5 410.9 311.5 412.6C313.6 414.2 318.2 419.5 320.2 420.7C322.2 422.0 327.1 422.6 328.9 423.3C330.7 424.0 334.9 426.3 335.8 426.8C336.8 427.3 336.3 427.2 336.9 427.3C337.6 427.4 340.1 427.8 341.3 427.7C342.5 427.5 345.8 426.4 347.4 425.9C348.9 425.4 352.9 423.6 354.3 423.3C355.7 423.0 358.3 423.2 359.5 423.3C360.7 423.5 363.1 424.8 364.7 424.7C366.3 424.6 371.6 422.7 373.4 422.5C375.2 422.3 378.8 422.7 380.4 423.0C381.9 423.3 385.2 425.0 386.4 425.1C387.6 425.2 389.4 424.4 390.8 423.9C392.1 423.3 396.3 421.3 397.7 420.7C399.1 420.1 401.9 418.9 402.9 418.6C403.9 418.4 405.5 418.4 406.4 418.6C407.3 418.9 409.7 420.2 410.7 420.7C411.7 421.3 414.1 423.3 415.1 423.3C416.1 423.3 418.5 421.1 419.4 420.7C420.3 420.3 422.0 419.7 422.9 419.9C423.8 420.0 425.9 421.6 427.2 421.9C428.5 422.2 432.8 422.3 434.2 422.5C435.6 422.7 438.4 423.0 439.4 423.7C440.4 424.4 441.8 427.1 442.9 428.5C443.9 430.0 446.6 435.0 448.1 435.8C449.5 436.6 453.6 435.6 455.0 435.5C456.4 435.4 459.0 435.3 460.2 435.0C461.4 434.7 464.0 434.0 465.4 432.9C466.8 431.7 471.2 426.5 472.4 425.1C473.5 423.7 474.1 421.9 475.2 420.7C476.4 419.5 480.6 415.6 482.1 414.6C483.7 413.7 486.8 412.6 488.2 412.6C489.6 412.5 492.8 414.1 494.3 414.1C495.8 414.2 499.8 413.4 501.2 412.9C502.7 412.5 505.4 411.1 506.5 410.3C507.5 409.5 508.9 406.8 509.9 406.0C510.9 405.1 514.1 403.3 515.1 402.9C516.2 402.4 517.6 402.6 518.6 402.1C519.6 401.7 522.5 399.8 523.8 399.0C525.1 398.3 528.7 396.8 529.9 395.6C531.1 394.3 533.1 389.9 534.2 388.6C535.4 387.3 538.0 385.2 539.4 384.3C540.9 383.3 544.8 381.0 546.4 380.3C548.0 379.6 551.9 378.6 553.3 378.2C554.7 377.7 557.4 376.5 558.5 376.5C559.7 376.4 561.9 378.0 562.9 377.9C563.9 377.7 566.2 376.1 567.2 375.6C568.2 375.1 570.6 373.7 571.6 373.3C572.5 373.0 574.1 372.4 575.0 372.6C575.9 372.9 578.3 374.7 579.4 375.6C580.5 376.4 583.3 378.9 584.6 379.9C585.9 380.9 589.4 383.8 590.7 384.3C591.9 384.7 593.9 383.5 595.0 383.9C596.1 384.4 598.8 387.6 600.2 388.3C601.6 389.0 605.7 390.1 607.1 390.0C608.6 389.9 611.1 387.4 612.4 387.2C613.6 387.1 616.2 388.3 617.6 388.6C618.9 388.9 622.1 388.9 623.9 389.5C625.6 390.0 630.5 392.9 632.6 393.5C634.6 394.0 639.7 394.2 641.2 394.3C642.8 394.4 644.7 394.7 645.6 394.3C646.5 394.0 647.9 391.5 649.1 391.2C650.2 391.0 653.6 391.9 655.1 392.1C656.7 392.3 660.5 393.1 662.1 392.9C663.7 392.8 667.6 391.4 669.0 390.9C670.4 390.4 673.1 389.5 674.2 388.6C675.4 387.7 677.7 384.6 678.6 383.4C679.5 382.2 681.2 379.2 682.0 378.5C682.9 377.8 684.6 377.3 685.5 377.3C686.4 377.3 688.7 378.6 689.9 378.5C691.0 378.5 693.7 377.2 695.1 377.0C696.5 376.8 700.7 376.9 702.0 376.8C703.3 376.7 705.3 375.8 706.4 376.1C707.4 376.4 709.7 378.1 710.7 379.1C711.7 380.0 714.0 382.6 715.0 384.3C716.0 385.9 718.3 390.3 719.4 392.9C720.5 395.6 723.4 404.1 724.6 406.8C725.8 409.6 728.6 414.3 729.8 416.4C731.0 418.5 733.8 423.2 735.0 425.1C736.2 426.9 739.3 430.9 740.4 432.0C741.6 433.2 743.8 434.6 744.8 435.0C745.7 435.4 747.4 435.5 748.2 435.5C749.0 435.4 750.8 435.4 751.7 434.6C752.6 433.8 754.9 429.9 756.0 428.5C757.2 427.2 760.0 424.2 761.2 423.3C762.5 422.5 765.1 421.7 766.5 421.2C767.8 420.8 771.2 420.5 772.5 419.9C773.8 419.2 776.4 416.7 777.7 415.5C779.1 414.3 782.4 410.5 783.8 409.4C785.2 408.4 788.4 406.7 789.9 406.3C791.4 405.9 795.3 406.4 796.8 406.0C798.4 405.6 801.4 403.6 802.9 402.9C804.4 402.1 808.4 400.1 809.9 399.4C811.3 398.7 814.1 397.3 815.1 396.9C816.1 396.6 817.5 397.0 818.5 396.4C819.6 395.9 822.5 393.3 823.8 392.1C825.0 390.9 827.7 387.4 829.0 386.0C830.2 384.6 833.1 381.3 834.2 380.3C835.3 379.3 838.0 378.0 838.5 377.7" stroke="#4175f7" stroke-width="1.4" fill="none" stroke-linejoin="round" stroke-linecap="round"/>
<path d="M0.6 516.0 L4.7 496.2 L8.8 486.9 L13.0 471.2 L17.1 452.9 L21.2 492.1 L25.3 508.8 L29.5 496.2 L33.6 489.0 L37.7 492.1 L41.9 450.0 L46.0 450.0 L50.1 451.5 L54.2 455.0 L58.4 449.4 L62.5 451.5 L65.9 454.2 L70.1 456.7 L74.2 452.1 L78.3 457.7 L82.5 461.9 L86.6 471.2 L90.7 468.1 L94.8 467.1 L99.0 461.9 L103.1 459.8 L107.2 456.2 L111.4 457.7 L115.5 456.7 L119.6 449.4 L123.7 452.9 L127.9 450.0 L132.0 454.2 L136.1 451.5 L140.3 449.4 L144.4 476.5 L148.5 470.8 L152.6 472.3 L156.8 472.3 L160.9 492.1 L165.0 514.0 L169.2 502.5 L173.3 532.7 L177.4 542.1 L181.5 495.2 L185.7 496.2 L189.8 469.2 L193.9 457.7 L198.1 454.6 L202.2 464.0 L206.3 453.5 L210.4 457.7 L213.9 464.0 L218.0 449.4 L222.2 454.6 L226.3 482.7 L230.4 492.1 L234.5 488.3 L238.7 492.1 L242.8 489.0 L246.9 460.8 L251.1 455.6 L255.2 453.5 L259.3 464.0 L263.4 454.6 L267.6 486.9 L271.7 501.5 L275.8 497.3 L280.0 534.8 L284.1 536.2 L288.2 525.4 L292.3 516.7 L296.5 526.5 L300.6 529.2 L304.7 527.9 L308.9 528.5 L313.0 531.7 L317.1 540.6 L321.2 537.5 L325.4 521.2 L329.5 525.0 L333.6 524.4 L337.8 532.7 L341.9 515.0 L346.0 504.6 L350.1 505.6 L354.3 495.2 L358.4 506.7 L361.8 521.7 L366.0 519.2 L370.1 508.8 L374.2 500.8 L378.4 520.2 L382.5 536.9 L386.6 533.3 L390.7 510.8 L394.9 498.8 L399.0 506.2 L403.1 506.7 L407.3 527.5 L411.4 539.0 L415.5 528.5 L419.6 490.0 L423.8 501.5 L427.9 531.7 L432.0 514.0 L436.2 521.2 L440.3 529.6 L444.4 540.0 L448.5 534.8 L452.7 509.8 L456.8 510.4 L460.9 512.9 L465.1 504.6 L469.2 485.8 L473.3 480.6 L477.4 477.5 L481.6 467.1 L485.7 470.2 L489.8 481.7 L494.0 497.9 L498.1 491.0 L502.2 484.2 L505.7 486.2 L509.8 460.8 L513.9 485.8 L518.0 499.8 L522.2 480.6 L526.3 467.5 L530.4 472.3 L534.6 454.2 L538.7 462.9 L542.8 470.6 L546.9 468.5 L551.1 474.4 L555.2 466.5 L559.3 469.2 L563.5 495.8 L567.6 460.8 L571.7 459.2 L575.8 474.4 L580.0 500.4 L584.1 515.0 L588.2 527.5 L592.4 518.1 L596.5 496.2 L600.6 536.9 L604.7 521.2 L608.9 514.0 L613.0 483.8 L617.1 510.4 L621.3 517.1 L625.4 509.8 L629.5 524.4 L633.6 520.2 L637.8 506.7 L641.9 505.6 L646.0 504.2 L650.2 454.2 L653.6 501.5 L657.7 493.8 L661.9 497.9 L666.0 474.4 L670.1 479.2 L674.2 458.3 L678.4 453.5 L682.5 449.4 L686.6 478.5 L690.8 491.7 L694.9 470.8 L699.0 479.6 L703.1 475.8 L707.3 470.2 L711.4 500.4 L715.5 521.2 L719.7 542.1 L723.8 540.0 L727.9 532.7 L732.0 531.7 L736.2 536.9 L740.3 539.0 L744.4 536.9 L748.6 528.5 L752.7 523.3 L756.8 497.3 L760.9 500.8 L765.1 510.4 L769.2 509.8 L773.3 496.7 L777.5 467.1 L781.6 452.9 L785.7 459.2 L789.8 469.2 L794.0 478.5 L798.1 484.2 L801.6 464.0 L805.7 470.2 L809.8 464.6 L813.9 459.8 L818.1 479.2 L822.2 449.8 L826.3 451.9 L830.5 449.8 L834.6 469.6 L838.7 476.5" stroke="#4175f7" stroke-width="1.3" fill="none" stroke-linejoin="round" stroke-linecap="round" />
<path d="M0.6 508.8 L4.7 506.2 L8.8 499.4 L13.0 484.8 L17.1 471.2 L21.2 471.7 L25.3 484.8 L29.5 499.4 L33.6 499.0 L37.7 492.1 L41.9 477.5 L46.0 464.0 L50.1 450.8 L54.2 452.1 L58.4 452.1 L62.5 451.5 L65.9 451.5 L70.1 454.2 L74.2 454.6 L78.3 455.6 L82.5 457.1 L86.6 463.3 L90.7 467.1 L94.8 468.1 L99.0 465.0 L103.1 462.5 L107.2 459.2 L111.4 457.7 L115.5 456.7 L119.6 454.6 L123.7 452.5 L127.9 450.8 L132.0 452.5 L136.1 451.9 L140.3 452.5 L144.4 460.8 L148.5 468.1 L152.6 472.3 L156.8 471.7 L160.9 478.5 L165.0 495.2 L169.2 502.5 L173.3 517.1 L177.4 525.4 L181.5 523.3 L185.7 511.9 L189.8 487.9 L193.9 473.3 L198.1 459.8 L202.2 458.8 L206.3 457.1 L210.4 458.3 L213.9 458.8 L218.0 457.1 L222.2 456.2 L226.3 461.9 L230.4 476.5 L234.5 487.9 L238.7 491.0 L242.8 490.0 L246.9 480.6 L251.1 468.1 L255.2 456.7 L259.3 457.7 L263.4 457.1 L267.6 468.1 L271.7 480.6 L275.8 495.2 L280.0 512.9 L284.1 524.4 L288.2 532.3 L292.3 525.4 L296.5 523.3 L300.6 524.4 L304.7 527.9 L308.9 528.5 L313.0 529.6 L317.1 533.8 L321.2 536.2 L325.4 532.7 L329.5 527.5 L333.6 523.8 L337.8 525.8 L341.9 523.3 L346.0 517.1 L350.1 506.7 L354.3 501.9 L358.4 502.5 L361.8 507.7 L366.0 515.4 L370.1 516.7 L374.2 509.8 L378.4 509.8 L382.5 519.2 L386.6 529.6 L390.7 527.5 L394.9 515.0 L399.0 505.6 L403.1 504.0 L407.3 514.0 L411.4 524.4 L415.5 530.0 L419.6 518.1 L423.8 506.2 L427.9 507.7 L432.0 515.4 L436.2 522.3 L440.3 521.2 L444.4 529.6 L448.5 534.8 L452.7 528.5 L456.8 518.1 L460.9 510.8 L465.1 507.7 L469.2 498.3 L473.3 487.5 L477.4 479.6 L481.6 474.4 L485.7 471.7 L489.8 473.3 L494.0 483.1 L498.1 490.0 L502.2 491.0 L505.7 486.9 L509.8 477.1 L513.9 477.1 L518.0 481.7 L522.2 487.9 L526.3 481.7 L530.4 473.3 L534.6 464.6 L538.7 462.5 L542.8 462.5 L546.9 467.1 L551.1 470.8 L555.2 469.6 L559.3 470.2 L563.5 477.1 L567.6 474.4 L571.7 471.2 L575.8 464.6 L580.0 477.5 L584.1 496.2 L588.2 514.0 L592.4 520.2 L596.5 514.4 L600.6 517.5 L604.7 518.8 L608.9 524.4 L613.0 506.7 L617.1 502.5 L621.3 503.5 L625.4 511.9 L629.5 517.5 L633.6 518.8 L637.8 517.5 L641.9 511.9 L646.0 505.6 L650.2 488.3 L653.6 486.9 L657.7 483.1 L661.9 497.3 L666.0 489.0 L670.1 483.8 L674.2 470.6 L678.4 462.9 L682.5 454.2 L686.6 460.8 L690.8 473.3 L694.9 480.0 L699.0 480.6 L703.1 477.1 L707.3 475.4 L711.4 482.7 L715.5 497.3 L719.7 521.2 L723.8 534.2 L727.9 538.3 L732.0 534.8 L736.2 533.8 L740.3 535.8 L744.4 537.5 L748.6 534.8 L752.7 529.6 L756.8 516.0 L760.9 507.1 L765.1 502.9 L769.2 507.1 L773.3 505.6 L777.5 491.0 L781.6 472.3 L785.7 460.2 L789.8 459.8 L794.0 469.2 L798.1 477.1 L801.6 475.4 L805.7 472.9 L809.8 466.5 L813.9 465.0 L818.1 467.5 L822.2 462.9 L826.3 460.2 L830.5 450.4 L834.6 457.1 L838.7 465.4" stroke="#f57c1f" stroke-width="1.4" fill="none" stroke-linejoin="round" stroke-linecap="round" />
<rect x="4" y="4" width="498" height="24.6" fill="#fff" opacity="0.55"/>
<rect x="4" y="342.5" width="142" height="29" fill="#fff" opacity="0.55"/>
<rect x="4" y="31" width="144" height="27" fill="#fff" opacity="0.55"/>
<rect x="4" y="66" width="78" height="17" fill="#fff" opacity="0.55"/>
<rect x="4" y="446" width="123" height="26.5" fill="#fff" opacity="0.55"/>
<path d="M1145.9 0V576" stroke="#868686" stroke-width="1.7"/>
<path d="M0 549.4H1200" stroke="#5e5e5e" stroke-width="0.9"/>
<path d="M611 168.9L847 168.7" stroke="#0a0a0a" stroke-width="1.9"/>
<path d="M846 168.4L1018 168.1" stroke="#000" stroke-width="1.5"/>
<path d="M587.3 169.2L612 156.6V181.2z" fill="#000"/>
<rect x="1112.5" y="188" width="32" height="16.6" rx="1.5" fill="#6aa886"/>
<text x="1128.5" y="200.6" font-size="10.5" font-weight="bold" fill="#fff" text-anchor="middle">RPM</text>
<rect x="1017.9" y="141.3" width="175.5" height="53" rx="3" fill="#fff" stroke="#000" stroke-width="1.8"/>
<text x="1023.5" y="162.4" font-size="20.9" fill="#000" textLength="163.8" lengthAdjust="spacingAndGlyphs">Resistance at top</text>
<text x="1023.3" y="186.9" font-size="20.9" fill="#000" textLength="112.9" lengthAdjust="spacingAndGlyphs">of the range</text>
<text x="1155.5" y="37.2" font-size="11.3" fill="#555" textLength="34.5" lengthAdjust="spacingAndGlyphs">100.00</text>
<text x="1155.5" y="83.1" font-size="11.3" fill="#555" textLength="28.5" lengthAdjust="spacingAndGlyphs">96.00</text>
<text x="1155.5" y="128.9" font-size="11.3" fill="#555" textLength="28.5" lengthAdjust="spacingAndGlyphs">92.00</text>
<text x="1155.5" y="219.6" font-size="11.3" fill="#555" textLength="28.5" lengthAdjust="spacingAndGlyphs">84.00</text>
<text x="1155.5" y="265.1" font-size="11.3" fill="#555" textLength="28.5" lengthAdjust="spacingAndGlyphs">80.00</text>
<text x="1155.5" y="310.6" font-size="11.3" fill="#555" textLength="28.5" lengthAdjust="spacingAndGlyphs">76.00</text>
<text x="1155.5" y="510.4" font-size="11.3" fill="#555" textLength="28.5" lengthAdjust="spacingAndGlyphs">40.00</text>
<text x="1155.5" y="430" font-size="11.3" fill="#555" textLength="28" lengthAdjust="spacingAndGlyphs">−2.00</text>
<text x="1155.5" y="547" font-size="11.3" fill="#555" textLength="22.5" lengthAdjust="spacingAndGlyphs">0.00</text>
<text x="1156.5" y="16.3" font-size="11.3" fill="#555" textLength="19.5" lengthAdjust="spacingAndGlyphs">USD</text>
<path d="M1178.5 10.5l2.4 2.4 2.4-2.4" stroke="#444" stroke-width="1.2" fill="none"/>
<rect x="1145.8" y="226.3" width="44.2" height="17.0" rx="1.5" fill="#2962ff"/><text x="1155.3" y="239.3" font-size="11.5" fill="#fff" font-weight="bold" textLength="28.5" lengthAdjust="spacingAndGlyphs">82.34</text>
<rect x="1145.8" y="356.6" width="38.49999999999996" height="16.899999999999977" rx="1.5" fill="#2962ff"/><text x="1155.3" y="369.55" font-size="11.5" fill="#fff" font-weight="bold" textLength="22.5" lengthAdjust="spacingAndGlyphs">0.95</text>
<rect x="1145.8" y="373.5" width="38.49999999999996" height="16.30000000000001" rx="1.5" fill="#b2dfdb"/><text x="1155.3" y="386.15" font-size="11.5" fill="#2a2a2a" textLength="22.5" lengthAdjust="spacingAndGlyphs">0.76</text>
<rect x="1145.8" y="389.8" width="38.49999999999996" height="16.69999999999999" rx="1.5" fill="#ff6d00"/><text x="1155.3" y="402.65" font-size="11.5" fill="#fff" font-weight="bold" textLength="22.5" lengthAdjust="spacingAndGlyphs">0.20</text>
<rect x="1145.8" y="452.4" width="44.2" height="16.900000000000034" rx="1.5" fill="#ff6d00"/><text x="1155.3" y="465.35" font-size="11.5" fill="#fff" font-weight="bold" textLength="28.5" lengthAdjust="spacingAndGlyphs">82.57</text>
<rect x="1145.8" y="469.3" width="44.2" height="16.899999999999977" rx="1.5" fill="#2962ff"/><text x="1155.3" y="482.25" font-size="11.5" fill="#fff" font-weight="bold" textLength="28.5" lengthAdjust="spacingAndGlyphs">70.67</text>
<text x="4.7" y="567.2" font-size="11" fill="#555" text-anchor="middle">Oct</text>
<text x="90.7" y="567.2" font-size="11" fill="#555" text-anchor="middle">Nov</text>
<text x="177.4" y="567.2" font-size="11" fill="#555" text-anchor="middle">Dec</text>
<text x="267.6" y="567.2" font-size="11.3" fill="#444" font-weight="bold" text-anchor="middle">2022</text>
<text x="350.1" y="567.2" font-size="11" fill="#555" text-anchor="middle">Feb</text>
<text x="427.9" y="567.2" font-size="11" fill="#555" text-anchor="middle">Mar</text>
<text x="522.2" y="567.2" font-size="11" fill="#555" text-anchor="middle">Apr</text>
<text x="604.7" y="567.2" font-size="11" fill="#555" text-anchor="middle">May</text>
<text x="690.8" y="567.2" font-size="11" fill="#555" text-anchor="middle">Jun</text>
<text x="777.5" y="567.2" font-size="11" fill="#555" text-anchor="middle">Jul</text>
<text x="859.4" y="567.2" font-size="11" fill="#555" text-anchor="middle">Aug</text>
<text x="953.7" y="567.2" font-size="11" fill="#555" text-anchor="middle">Sep</text>
<text x="1040.4" y="567.2" font-size="11" fill="#555" text-anchor="middle">Oct</text>
<text x="1126.5" y="567.2" font-size="11" fill="#555" text-anchor="middle">Nov</text>
<g transform="translate(1173.5 562.5)" fill="none" stroke="#333" stroke-width="1.4"><circle r="4.6"/><path d="M0 -7.2V-5M0 7.2V5M-7.2 0H-5M7.2 0H5M-5.1 -5.1L-3.5 -3.5M5.1 5.1L3.5 3.5M-5.1 5.1L-3.5 3.5M5.1 -5.1L3.5 -3.5"/></g>
<text x="10" y="22.2" font-size="15.8" fill="#4f4f4f" textLength="30.2" lengthAdjust="spacingAndGlyphs">RPM</text>
<text x="46.6" y="22.2" font-size="15.8" fill="#777" text-anchor="middle">·</text>
<text x="54" y="22.2" font-size="15.8" fill="#4f4f4f" textLength="87.8" lengthAdjust="spacingAndGlyphs">TradingView</text>
<path d="M166.2 7h11.3v18h-11.3a9 9 0 0 1 0-18z" fill="#fdecd4"/>
<path d="M177.5 7h11.8a9 9 0 0 1 0 18h-11.8z" fill="#f9c0d6"/>
<path d="M165.3 18.1a3.4 3.6 0 0 1 6.8 0z" fill="#f7931a"/>
<path d="M168.7 10.6v1.9M165 11.9l1.1 1.5M172.4 11.9l-1.1 1.5M161.9 15.9l1.8 0.4M175.5 15.9l-1.8 0.4" stroke="#f7931a" stroke-width="1.4" stroke-linecap="round" fill="none"/>
<text x="187.6" y="22" font-size="18.5" font-weight="bold" fill="#c3206f" text-anchor="middle" transform="rotate(-6 187.6 16)">≈</text>
<text x="215.5" y="21.7" font-size="13" fill="#666" textLength="8.6" lengthAdjust="spacingAndGlyphs">O</text>
<text x="224.3" y="21.7" font-size="13" fill="#3b7355" textLength="33.3" lengthAdjust="spacingAndGlyphs">85.25</text>
<text x="264.8" y="21.7" font-size="13" fill="#666" textLength="8" lengthAdjust="spacingAndGlyphs">H</text>
<text x="273" y="21.7" font-size="13" fill="#3b7355" textLength="33.5" lengthAdjust="spacingAndGlyphs">86.52</text>
<text x="314" y="21.7" font-size="13" fill="#666" textLength="6.4" lengthAdjust="spacingAndGlyphs">L</text>
<text x="320.8" y="21.7" font-size="13" fill="#3b7355" textLength="33.5" lengthAdjust="spacingAndGlyphs">82.87</text>
<text x="361.3" y="21.7" font-size="13" fill="#666" textLength="7.6" lengthAdjust="spacingAndGlyphs">C</text>
<text x="369.5" y="21.7" font-size="13" fill="#3b7355" textLength="33.5" lengthAdjust="spacingAndGlyphs">85.54</text>
<text x="410" y="21.7" font-size="13" fill="#3b7355" textLength="87.5" lengthAdjust="spacingAndGlyphs">−0.57 (−0.66%)</text>
<rect x="8.9" y="33" width="48.6" height="23.3" rx="3.5" fill="#fff" stroke="#f2636b" stroke-width="1"/>
<text x="33.1" y="49.4" font-size="13.4" fill="#f0434e" text-anchor="middle" textLength="33" lengthAdjust="spacingAndGlyphs">85.54</text>
<text x="66.3" y="49.4" font-size="13.4" fill="#666" textLength="22" lengthAdjust="spacingAndGlyphs">0.00</text>
<rect x="97.1" y="33" width="48.8" height="23.3" rx="3.5" fill="#fff" stroke="#5b86fa" stroke-width="1"/>
<text x="121.6" y="49.4" font-size="13.4" fill="#3a6bf7" text-anchor="middle" textLength="32.8" lengthAdjust="spacingAndGlyphs">85.54</text>
<text x="9.9" y="78.3" font-size="13.2" fill="#555" textLength="23.9" lengthAdjust="spacingAndGlyphs">EMA</text>
<text x="42.4" y="78.3" font-size="13.2" fill="#3a6bf7" textLength="32.8" lengthAdjust="spacingAndGlyphs">82.34</text>
<text x="9.5" y="362.1" font-size="13.2" fill="#555" textLength="33.2" lengthAdjust="spacingAndGlyphs">MACD</text>
<text x="51.4" y="362.1" font-size="13.2" fill="#9fd6d0" textLength="25.8" lengthAdjust="spacingAndGlyphs">0.76</text>
<text x="83.7" y="362.1" font-size="13.2" fill="#3a6bf7" textLength="25.6" lengthAdjust="spacingAndGlyphs">0.95</text>
<text x="116.1" y="362.1" font-size="13.2" fill="#f57c1f" textLength="25.2" lengthAdjust="spacingAndGlyphs">0.20</text>
<text x="9.5" y="465.5" font-size="13.5" fill="#555" textLength="32.2" lengthAdjust="spacingAndGlyphs">Stoch</text>
<text x="51.5" y="465.5" font-size="13.5" fill="#3a6bf7" textLength="31.8" lengthAdjust="spacingAndGlyphs">70.67</text>
<text x="90.3" y="465.5" font-size="13.5" fill="#f57c1f" textLength="32" lengthAdjust="spacingAndGlyphs">82.57</text>
<circle cx="24.6" cy="526.4" r="16.8" fill="#fff" stroke="#e3e3e3" stroke-width="1"/>
<path d="M13.4 520.9h8.9v11.1h-3.6v-7.2h-5.3z" fill="#131722"/>
<circle cx="26.2" cy="523" r="1.9" fill="#131722"/>
<path d="M29.4 520.9h6l-3.4 11.1h-6z" fill="#131722"/>
</svg>
</body></html>
